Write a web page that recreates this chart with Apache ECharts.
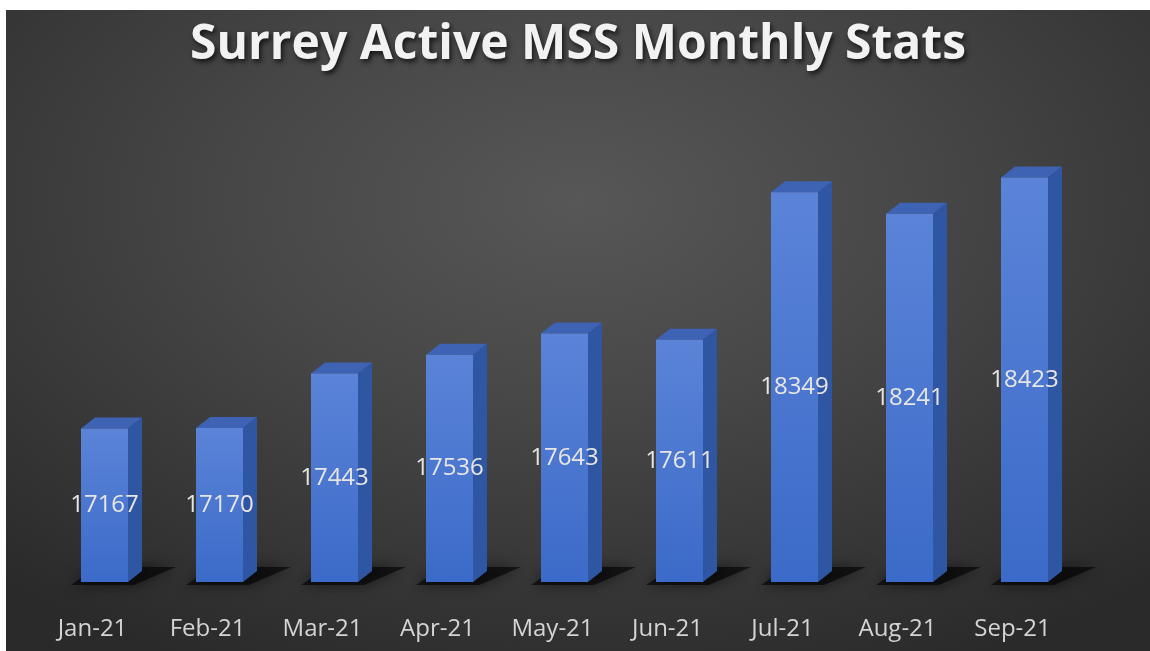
<!DOCTYPE html>
<html>
<head>
<meta charset="utf-8">
<style>
    html, body { margin: 0; padding: 0; background: #ffffff; }
    #chart {
        position: absolute; left: 6px; top: 10px; width: 1144px; height: 641px;
        background: radial-gradient(ellipse 75% 80% at 50% 30%, #575757 0%, #474747 40%, #363636 75%, #2a2a2a 100%);
    }
</style>
</head>
<body>
<div id="chart"></div>
<script src="https://cdn.jsdelivr.net/npm/echarts@6/dist/echarts.min.js"></script>
<script type="text/javascript">
    // data
    var months = ['Jan-21', 'Feb-21', 'Mar-21', 'Apr-21', 'May-21', 'Jun-21', 'Jul-21', 'Aug-21', 'Sep-21'];
    var activeMss = [17167, 17170, 17443, 17536, 17643, 17611, 18349, 18241, 18423];
    var yMin = 16400, yMax = 18600;

    var chart = echarts.init(document.getElementById('chart'), null, {renderer: 'canvas'});

    var HW = 23.5, DX = 14, DY = 11;

    chart.setOption({
        title: {
            text: 'Surrey Active MSS Monthly Stats',
            left: 'center',
            top: 6,
            textStyle: {
                fontFamily: 'Open Sans',
                fontWeight: 'bold',
                fontSize: 48,
                color: '#f2f2f2',
                textShadowColor: 'rgba(0,0,0,0.7)',
                textShadowBlur: 5,
                textShadowOffsetX: 2,
                textShadowOffsetY: 3
            }
        },
        grid: {left: 41, right: 68, top: 132, bottom: 69},
        xAxis: {
            type: 'category',
            data: months,
            axisLine: {show: false},
            axisTick: {show: false},
            axisLabel: {
                margin: 35,
                padding: [0, 24, 0, 0],
                fontFamily: 'Open Sans',
                fontSize: 24,
                color: '#d4d4d4'
            }
        },
        yAxis: {
            type: 'value',
            min: yMin,
            max: yMax,
            show: false,
            splitLine: {show: false}
        },
        series: [
            {
                //侧面、顶面和阴影
                type: 'custom',
                z: 1,
                data: activeMss.map(function (v, i) { return [i, v]; }),
                renderItem: function (params, api) {
                    var top = api.coord([api.value(0), api.value(1)]);
                    var base = api.coord([api.value(0), yMin]);
                    var x = top[0];
                    return {
                        type: 'group',
                        children: [
                            {
                                type: 'polygon',
                                shape: {points: [
                                    [x - HW - 10, base[1] + 3],
                                    [x + HW + 6, base[1] + 3],
                                    [x + HW + DX + 34, base[1] - DY - 4],
                                    [x - HW + DX + 2, base[1] - DY - 4]
                                ]},
                                style: {
                                    fill: 'rgba(0,0,0,0.6)',
                                    shadowBlur: 14,
                                    shadowColor: 'rgba(0,0,0,0.9)'
                                }
                            },
                            {
                                type: 'polygon',
                                shape: {points: [
                                    [x + HW, top[1]],
                                    [x + HW + DX, top[1] - DY],
                                    [x + HW + DX, base[1] - DY],
                                    [x + HW, base[1]]
                                ]},
                                style: {fill: '#2f56a3'}
                            },
                            {
                                type: 'polygon',
                                shape: {points: [
                                    [x - HW, top[1]],
                                    [x + HW, top[1]],
                                    [x + HW + DX, top[1] - DY],
                                    [x - HW + DX, top[1] - DY]
                                ]},
                                style: {fill: '#3e63b4'}
                            }
                        ]
                    };
                }
            },
            {
                //正面
                type: 'bar',
                z: 2,
                data: activeMss,
                barWidth: 47,
                itemStyle: {
                    color: new echarts.graphic.LinearGradient(0, 0, 0, 1, [
                        {offset: 0, color: '#5b84d8'},
                        {offset: 1, color: '#3b6ac8'}
                    ])
                },
                label: {
                    show: true,
                    position: 'inside',
                    fontFamily: 'Open Sans',
                    fontSize: 24,
                    color: '#e8e6e2'
                }
            }
        ]
    });
</script>
</body>
</html>
